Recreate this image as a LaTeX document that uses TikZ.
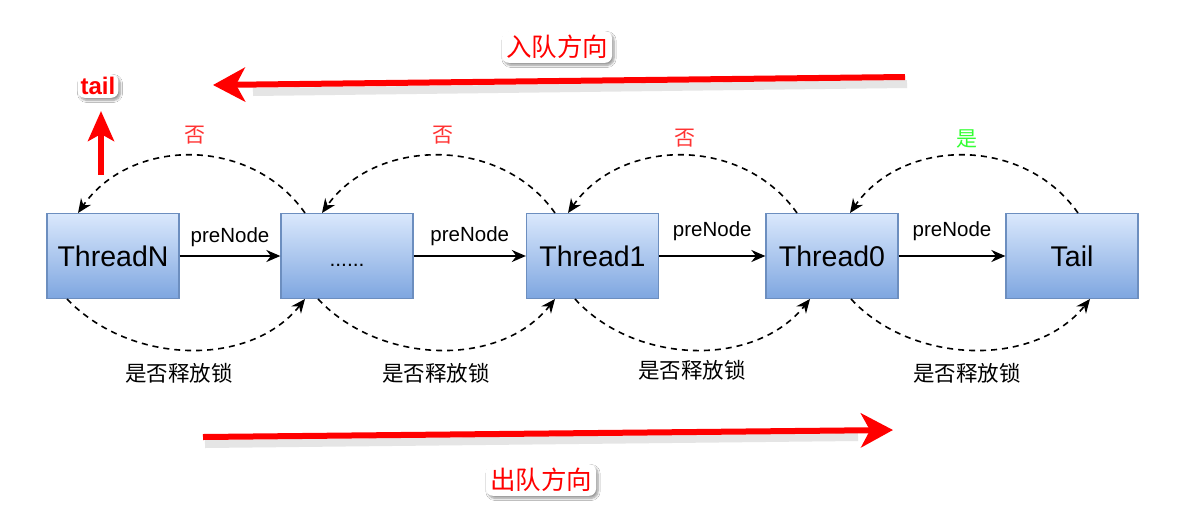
\documentclass[tikz,border=0pt]{standalone}
\usepackage{fontspec}
\setmainfont{Liberation Sans}
\newfontfamily\cjk{Noto Sans CJK SC}
\usetikzlibrary{arrows.meta,shadows.blur,calc}
\definecolor{boxtop}{HTML}{DAE8FC}
\definecolor{boxbot}{HTML}{7EA6E0}
\definecolor{boxline}{HTML}{6C8EBF}
\definecolor{nored}{HTML}{FF3333}
\definecolor{yesgreen}{HTML}{33FF33}
\tikzset{
  qbox/.style={draw=boxline, line width=1.3pt, top color=boxtop, bottom color=boxbot,
    minimum width=132pt, minimum height=85pt, inner sep=0pt, font=\fontsize{28.5}{32}\selectfont},
  prearrow/.style={line width=1.8pt, -{Stealth[length=14pt,width=12pt]}},
  arc/.style={line width=1.6pt, dash pattern=on 6pt off 5pt, -{Stealth[length=14pt,width=12pt]}},
  prelabel/.style={font=\fontsize{20.5}{24}\selectfont, inner sep=1pt},
  locklabel/.style={font=\cjk\fontsize{21.5}{26}\selectfont, inner sep=1pt},
  answer/.style={font=\cjk\fontsize{21}{24}\selectfont, inner sep=1pt},
  bigred/.style={draw=red, line width=6pt, -{Stealth[length=32pt,width=34pt,inset=9pt]}},
  redshadow/.style={draw=black!45, opacity=0.22, line width=8pt},
  halo/.style={fill=white, rounded corners=7pt, text=red, inner sep=4pt,
    blur shadow={shadow blur steps=8, shadow xshift=2pt, shadow yshift=-2.5pt, shadow opacity=40}},
}
\begin{document}
\begin{tikzpicture}[x=1pt,y=-1pt]
\useasboundingbox (0,0) rectangle (1182,525);
\fill[white] (0,0) rectangle (1182,525);

% boxes
\node[qbox] (tn) at (113,256) {ThreadN};
\node[qbox, text height=20pt, text depth=0pt, font=\fontsize{21}{24}\selectfont] (dots) at (347,256) {......};
\node[qbox] (t1) at (592.5,256) {Thread1};
\node[qbox] (t0) at (832,256) {Thread0};
\node[qbox] (tail) at (1072,256) {Tail};

% preNode arrows
\draw[prearrow] (tn.east) -- node[prelabel, above=7pt] {preNode} (dots.west);
\draw[prearrow] (dots.east) -- node[prelabel, above=8pt] {preNode} (t1.west);
\draw[prearrow] (t1.east) -- node[prelabel, above=13pt] {preNode} (t0.west);
\draw[prearrow] (t0.east) -- node[prelabel, above=13pt] {preNode} (tail.west);

% upper arcs
\draw[arc] (305,213) .. controls (250,135) and (130,138) .. (78,213);
\draw[arc] (555,213) .. controls (500,135) and (375,138) .. (322,213);
\draw[arc] (797,213) .. controls (742,135) and (620,138) .. (568,213);
\draw[arc] (1078,213) .. controls (1023,135) and (902,138) .. (850,213);
\node[answer, text=nored] (a1) at (195,135) {否};
\node[answer, text=nored] (a2) at (443,135) {否};
\node[answer, text=nored] (a3) at (685,138) {否};
\node[answer, text=yesgreen] (a4) at (967,139) {是};

% lower arcs
\draw[arc] (67,299) .. controls (130,365) and (250,368) .. (305,299);
\draw[arc] (318,299) .. controls (380,365) and (500,368) .. (555,299);
\draw[arc] (575,299) .. controls (635,365) and (755,368) .. (810,299);
\draw[arc] (851,299) .. controls (912,365) and (1035,368) .. (1090,299);
\node[locklabel] (l1) at (179,373) {是否释放锁};
\node[locklabel] (l2) at (436,373) {是否释放锁};
\node[locklabel] (l3) at (692,370) {是否释放锁};
\node[locklabel] (l4) at (967,373) {是否释放锁};

% red direction arrows
\coordinate (inS) at (905,77);
\coordinate (inE) at (213,85);
\coordinate (outS) at (203,437);
\coordinate (outE) at (893,430);
\coordinate (upS) at (101,175);
\coordinate (upE) at (101,111);
\draw[redshadow] ($(inS)+(2,7)$) -- ($(inE)+(40,7)$);
\draw[redshadow] ($(outS)+(2,7)$) -- ($(outE)+(-35,7)$);
\draw[bigred] (inS) -- (inE);
\draw[bigred] (outS) -- (outE);
\draw[draw=red, line width=5.5pt, -{Stealth[length=30pt,width=26pt,inset=7pt]}] (upS) -- (upE);

\node[halo, font=\cjk\fontsize{25.5}{30}\selectfont] (inlbl) at (557,47) {入队方向};
\node[halo, font=\cjk\fontsize{25.5}{30}\selectfont] (outlbl) at (541,480) {出队方向};
\node[halo, font=\bfseries\fontsize{24}{28}\selectfont, inner sep=3pt] (taillbl) at (98,86) {tail};
\end{tikzpicture}
\end{document}
